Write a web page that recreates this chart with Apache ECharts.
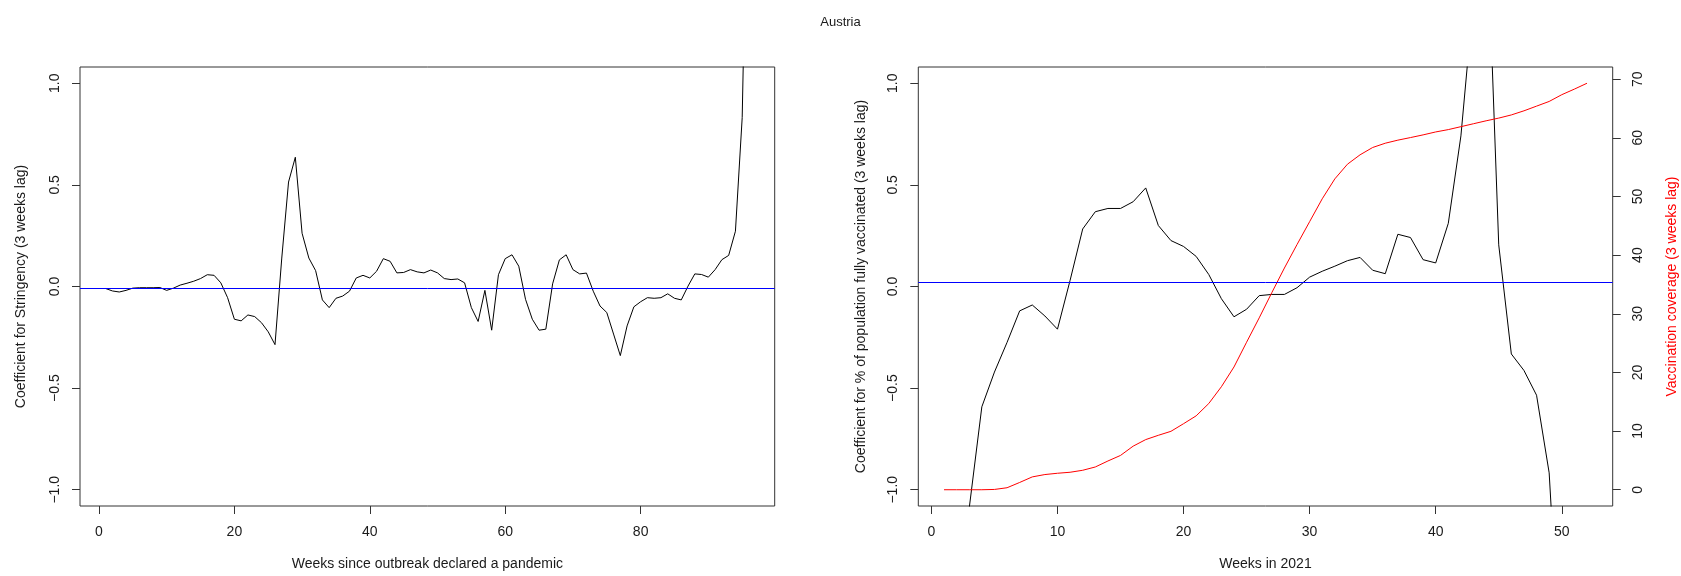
<!DOCTYPE html>
<html>
<head>
<meta charset="utf-8">
<title>Austria</title>
<script src="https://cdn.jsdelivr.net/npm/echarts@6/dist/echarts.min.js"></script>
<style>
  html, body { margin: 0; padding: 0; background: #ffffff; }
  #main { width: 1681px; height: 576px; }
</style>
</head>
<body>
<div id="main"></div>
<script>
// Weekly regression coefficients for Austria, one value per week (week = position + 1)

// Coefficient for Stringency (3 weeks lag), weeks since outbreak declared a pandemic
const stringencyCoef = [
  -0.010, -0.022, -0.027, -0.019, -0.008, -0.006, -0.006, -0.006, -0.005, -0.019,
  -0.008, 0.007, 0.016, 0.026, 0.039, 0.058, 0.055, 0.018, -0.055, -0.161,
  -0.169, -0.140, -0.148, -0.178, -0.223, -0.286, 0.140, 0.514, 0.636, 0.262,
  0.140, 0.078, -0.066, -0.104, -0.058, -0.047, -0.023, 0.042, 0.055, 0.042,
  0.075, 0.137, 0.124, 0.067, 0.069, 0.083, 0.072, 0.067, 0.081, 0.067,
  0.039, 0.034, 0.037, 0.018, -0.104, -0.172, -0.019, -0.215, 0.058, 0.137,
  0.156, 0.100, -0.063, -0.161, -0.215, -0.210, 0.013, 0.131, 0.156, 0.083,
  0.062, 0.066, -0.023, -0.096, -0.128, -0.234, -0.340, -0.194, -0.100, -0.075,
  -0.055, -0.058, -0.055, -0.036, -0.058, -0.066, 0.002, 0.062, 0.059, 0.046,
  0.083, 0.132, 0.153, 0.272, 0.831, 2.500
];
const stringencyRef = -0.013;

// Coefficient for % of population fully vaccinated (3 weeks lag), weeks in 2021
const vaccinatedCoef = [
  null, null, -1.090, -0.592, -0.421, -0.275, -0.120, -0.091, -0.145, -0.210,
  0.030, 0.283, 0.368, 0.384, 0.384, 0.417, 0.485, 0.300, 0.226, 0.197,
  0.148, 0.059, -0.060, -0.149, -0.112, -0.045, -0.039, -0.039, -0.006, 0.046,
  0.075, 0.100, 0.127, 0.143, 0.080, 0.063, 0.257, 0.241, 0.132, 0.116,
  0.311, 0.741, 1.420, 1.920, 0.205, -0.332, -0.413, -0.535, -0.917, -2.000,
  null, null
];
const vaccinatedRef = 0.018;

// Vaccination coverage in % (3 weeks lag), weeks in 2021
const coverage = [
  0, 0, 0, 0, 0.05, 0.34, 1.24, 2.19, 2.59, 2.81,
  2.98, 3.32, 3.88, 4.90, 5.85, 7.43, 8.55, 9.28, 9.96, 11.26,
  12.60, 14.70, 17.56, 20.93, 25.15, 29.30, 33.60, 37.80, 41.80, 45.70,
  49.60, 53.00, 55.50, 57.10, 58.35, 59.08, 59.60, 60.04, 60.50, 61.00,
  61.40, 61.90, 62.40, 62.90, 63.36, 63.90, 64.60, 65.40, 66.20, 67.35,
  68.30, 69.30
];

// Tick labels
const stringencyWeekTicks = [0, 20, 40, 60, 80];
const weekTicks2021 = [0, 10, 20, 30, 40, 50];
const coefTicks = [-1, -0.5, 0, 0.5, 1];
const coverageTicks = [0, 10, 20, 30, 40, 50, 60, 70];

const FONT = '"Liberation Sans", Arial, Helvetica, sans-serif';
const INK = '#1a1a1a';
const FRAME = '#333333';

// Axis range with 4% padding on each side
function padded(lo, hi) {
  const d = (hi - lo) * 0.04;
  return { min: lo - d, max: hi + d };
}
const toPairs = arr => arr.map((v, i) => [i + 1, v]);
const fmtCoef = v => v.toFixed(1).replace('-', '\u2212');

const xLeft = padded(1, stringencyCoef.length);
const xRight = padded(1, coverage.length);
const yCoef = padded(-1, 1);
const yCov = padded(Math.min(...coverage), Math.max(...coverage));

function xAxisDef(grid, range, ticks, name) {
  return {
    type: 'value', gridIndex: grid, position: 'bottom', min: range.min, max: range.max,
    axisLine: { show: false, onZero: false },
    splitLine: { show: false },
    axisTick: { show: true, inside: false, length: 8, customValues: ticks,
      lineStyle: { color: FRAME, width: 1 } },
    axisLabel: { customValues: ticks, margin: 19, fontSize: 14, color: INK, fontFamily: FONT },
    name: name, nameLocation: 'middle', nameGap: 51,
    nameTextStyle: { fontSize: 14, color: INK, fontFamily: FONT }
  };
}
function yAxisDef(grid, range, ticks, fmt, name, pos, nameColor, gap) {
  return {
    type: 'value', gridIndex: grid, position: pos, min: range.min, max: range.max,
    axisLine: { show: false, onZero: false },
    splitLine: { show: false },
    axisTick: { show: true, inside: false, length: 8, customValues: ticks,
      lineStyle: { color: FRAME, width: 1 } },
    axisLabel: { customValues: ticks, rotate: 90, margin: 18, fontSize: 14, color: INK,
      fontFamily: FONT, formatter: fmt },
    name: name, nameLocation: 'middle', nameRotate: 90, nameGap: gap,
    nameTextStyle: { fontSize: 14, color: nameColor, fontFamily: FONT }
  };
}
function refLine(value) {
  return {
    silent: true, symbol: 'none', label: { show: false },
    lineStyle: { color: '#0000ff', width: 1, type: 'solid' },
    emphasis: { disabled: true },
    data: [{ yAxis: value }]
  };
}

const chart = echarts.init(document.getElementById('main'), null, { renderer: 'canvas' });
chart.setOption({
  animation: false,
  backgroundColor: '#ffffff',
  title: {
    text: 'Austria', left: 'center', top: 11,
    textStyle: { fontSize: 13, fontWeight: 'normal', color: INK, fontFamily: FONT }
  },
  grid: [
    { left: 80, top: 67, width: 694.7, height: 443.3, show: true,
      borderColor: FRAME, borderWidth: 1, backgroundColor: 'transparent' },
    { left: 918.3, top: 67, width: 694.4, height: 443.3, show: true,
      borderColor: FRAME, borderWidth: 1, backgroundColor: 'transparent' }
  ],
  xAxis: [
    xAxisDef(0, xLeft, stringencyWeekTicks, 'Weeks since outbreak declared a pandemic'),
    xAxisDef(1, xRight, weekTicks2021, 'Weeks in 2021')
  ],
  yAxis: [
    yAxisDef(0, yCoef, coefTicks, fmtCoef, 'Coefficient for Stringency (3 weeks lag)', 'left', INK, 52),
    yAxisDef(1, yCoef, coefTicks, fmtCoef,
      'Coefficient for % of population fully vaccinated (3 weeks lag)', 'left', INK, 50),
    yAxisDef(1, yCov, coverageTicks, v => String(v), 'Vaccination coverage (3 weeks lag)',
      'right', '#ff0000', 52)
  ],
  series: [
    {
      name: 'Stringency coefficient', type: 'line', xAxisIndex: 0, yAxisIndex: 0,
      data: toPairs(stringencyCoef), showSymbol: false, symbol: 'none', clip: true,
      lineStyle: { color: '#000000', width: 1 }, z: 2,
      markLine: refLine(stringencyRef)
    },
    {
      name: 'Vaccinated coefficient', type: 'line', xAxisIndex: 1, yAxisIndex: 1,
      data: toPairs(vaccinatedCoef), showSymbol: false, symbol: 'none', clip: true,
      connectNulls: false,
      lineStyle: { color: '#000000', width: 1 }, z: 2,
      markLine: refLine(vaccinatedRef)
    },
    {
      name: 'Vaccination coverage', type: 'line', xAxisIndex: 1, yAxisIndex: 2,
      data: toPairs(coverage), showSymbol: false, symbol: 'none', clip: true,
      lineStyle: { color: '#ff0000', width: 1 }, z: 3
    }
  ]
});
</script>
</body>
</html>
